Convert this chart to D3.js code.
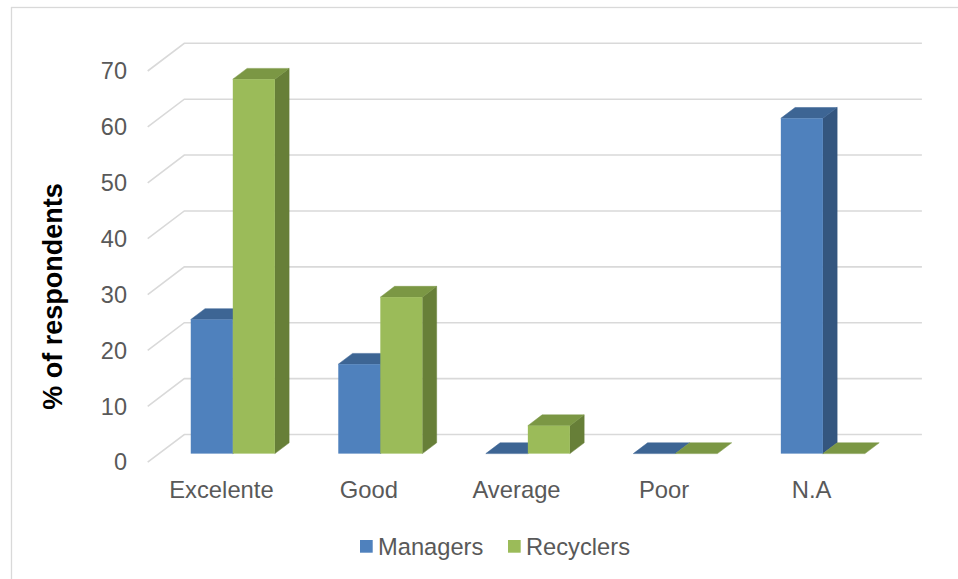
<!DOCTYPE html>
<html>
<head>
<meta charset="utf-8">
<script src="https://cdn.jsdelivr.net/npm/d3@7"></script>
<style>
  html, body { margin: 0; padding: 0; background: #ffffff; }
  svg { display: block; font-family: "Liberation Sans", Arial, sans-serif; }
</style>
</head>
<body>
<svg id="chart" width="958" height="579"></svg>
<script>
// ---- data ----
const categories = ["Excelente", "Good", "Average", "Poor", "N.A"];
const seriesNames = ["Managers", "Recyclers"];
const managers = [24, 16, 0, 0, 60];
const recyclers = [67, 28, 5, 0, 0];
const yTicks = [0, 10, 20, 30, 40, 50, 60, 70];
const yTitle = "% of respondents";

const seriesValues = [managers, recyclers];
const colors = {
  Managers:  { front: "#4f81bd", top: "#3d6594", side: "#34567f" },
  Recyclers: { front: "#9bbb59", top: "#7b9744", side: "#677f38" }
};

const svg = d3.select("#chart");

// outer border
svg.append("rect")
  .attr("x", 11.5).attr("y", 7.5).attr("width", 950).attr("height", 580)
  .attr("fill", "#ffffff").attr("stroke", "#d9d9d9").attr("stroke-width", 1.3);

// 3D geometry
const depth = { dx: 36.6, dy: -27.7 };       // full floor depth vector
const f0 = 0.31, f1 = 0.70;                  // bar front / back depth fractions

const x = d3.scaleBand().domain(categories).range([147.7, 885.3]).paddingInner(0).paddingOuter(0);
const xInner = d3.scaleBand().domain(seriesNames)
  .range([x.bandwidth() * 0.215, x.bandwidth() * 0.785]).padding(0);
const y = d3.scaleLinear().domain([0, 70]).range([462.2, 71]); // front plane

const g = svg.append("g");

// gridlines on back wall + diagonal ticks on side wall
const grid = g.append("g");
yTicks.forEach(t => {
  const yf = y(t);
  const xl = x.range()[0];
  const xr = x.range()[1];
  grid.append("path")
    .attr("d", `M${xl},${yf} L${xl + depth.dx},${yf + depth.dy} L${xr + depth.dx},${yf + depth.dy}`)
    .attr("fill", "none").attr("stroke", "#d9d9d9").attr("stroke-width", 1.6);
});

// tick labels
const tickG = g.append("g");
yTicks.forEach(t => {
  tickG.append("text")
    .attr("x", 127).attr("y", y(t))
    .attr("dy", "0.35em")
    .attr("text-anchor", "end")
    .attr("font-size", 23.5)
    .attr("fill", "#595959")
    .text(t);
});

// bars
const barsG = g.append("g");
const ox0 = depth.dx * f0, oy0 = depth.dy * f0;
const bdx = depth.dx * (f1 - f0), bdy = depth.dy * (f1 - f0);

categories.forEach((cat, ci) => {
  seriesNames.forEach((s, si) => {
    const v = seriesValues[si][ci];
    const x0 = x(cat) + xInner(s) + ox0;
    const x1 = x0 + xInner.bandwidth();
    const yb = y(0) + oy0;
    const yt = y(v) + oy0;
    const c = colors[s];
    const bg = barsG.append("g");
    if (v > 0) {
      bg.append("path")
        .attr("d", `M${x1},${yb} L${x1 + bdx},${yb + bdy} L${x1 + bdx},${yt + bdy} L${x1},${yt} Z`)
        .attr("fill", c.side).attr("stroke", c.side).attr("stroke-width", 0.5);
    }
    bg.append("path")
      .attr("d", `M${x0},${yt} L${x1},${yt} L${x1 + bdx},${yt + bdy} L${x0 + bdx},${yt + bdy} Z`)
      .attr("fill", c.top).attr("stroke", c.top).attr("stroke-width", 0.5);
    if (v > 0) {
      bg.append("rect")
        .attr("x", x0).attr("y", yt).attr("width", x1 - x0).attr("height", yb - yt)
        .attr("fill", c.front);
    }
  });
});

// category labels
const xLab = g.append("g");
categories.forEach(cat => {
  xLab.append("text")
    .attr("x", x(cat) + x.bandwidth() / 2).attr("y", 498)
    .attr("text-anchor", "middle")
    .attr("font-size", 23.8)
    .attr("fill", "#595959")
    .text(cat);
});

// y-axis title
svg.append("text")
  .attr("transform", "translate(61.5,296.5) rotate(-90)")
  .attr("text-anchor", "middle")
  .attr("font-size", 27)
  .attr("font-weight", "bold")
  .attr("fill", "#000000")
  .text(yTitle);

// legend
const legendItems = [
  { name: "Managers", sx: 360, tx: 378 },
  { name: "Recyclers", sx: 508, tx: 526 }
];
const lg = svg.append("g");
legendItems.forEach(it => {
  lg.append("rect")
    .attr("x", it.sx).attr("y", 540).attr("width", 12.7).attr("height", 12.7)
    .attr("fill", colors[it.name].front);
  lg.append("text")
    .attr("x", it.tx).attr("y", 546.5).attr("dy", "0.35em")
    .attr("font-size", 23.7).attr("fill", "#595959")
    .text(it.name);
});
</script>
</body>
</html>
